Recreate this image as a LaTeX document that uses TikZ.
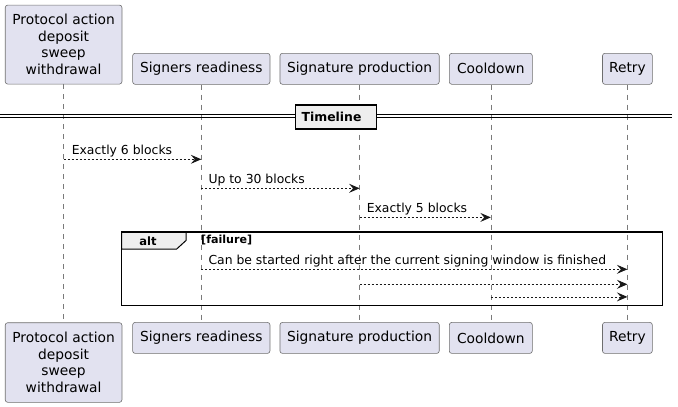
\documentclass[tikz,border=0pt]{standalone}
\usepackage{fontspec}
\setmainfont{DejaVu Sans}
\usetikzlibrary{arrows.meta}
\definecolor{partfill}{HTML}{E2E2F0}
\definecolor{ink}{HTML}{181818}
\definecolor{grpfill}{HTML}{EEEEEE}
\definecolor{lifegray}{HTML}{7A7A7A}
\definecolor{partborder}{HTML}{6E6E6E}
\begin{document}
\begin{tikzpicture}[x=1pt,y=-1pt,
  part/.style={draw=partborder, line width=0.6pt, fill=partfill, rounded corners=2.5pt,
    inner sep=0pt, align=center, font=\fontsize{13.8}{16.5}\selectfont},
  small/.style={part, minimum height=31pt},
  life/.style={draw=lifegray, line width=0.6pt, dash pattern=on 5pt off 5pt},
  msg/.style={draw=ink, line width=0.8pt, dash pattern=on 2pt off 2pt,
    -{Stealth[length=10.5pt,width=9pt,inset=4pt]}},
  mlabel/.style={anchor=base west, inner sep=0pt, font=\fontsize{12.4}{14}\selectfont},
  grptitle/.style={inner sep=0pt, font=\bfseries\fontsize{11.5}{13}\selectfont},
]
\useasboundingbox (0,0) rectangle (678,407);

% participants (top)
\node[part, minimum width=116.7pt, minimum height=79pt] (pA) at (63.6,44.6) {Protocol action\\deposit\\sweep\\withdrawal};
\node[small, minimum width=137.3pt] (pB) at (201.3,68.8) {Signers readiness};
\node[small, minimum width=159.3pt] (pC) at (359.6,68.8) {Signature production};
\node[small, minimum width=83pt] (pD) at (490.8,68.8) {Cooldown};
\node[small, minimum width=49.8pt] (pE) at (627.4,68.8) {Retry};

% participants (bottom)
\node[part, minimum width=116.7pt, minimum height=79.6pt] (qA) at (63.6,362.5) {Protocol action\\deposit\\sweep\\withdrawal};
\node[small, minimum width=137.3pt] (qB) at (201.3,337.9) {Signers readiness};
\node[small, minimum width=159.3pt] (qC) at (359.6,337.9) {Signature production};
\node[small, minimum width=83pt] (qD) at (490.8,337.9) {Cooldown};
\node[small, minimum width=49.8pt] (qE) at (627.4,337.9) {Retry};

% lifelines
\foreach \t/\b in {pA/qA,pB/qB,pC/qC,pD/qD,pE/qE}
  \draw[life] (\t.south) -- (\b.north);

% divider
\draw[line width=1pt] (0,114.6) -- (672.3,114.6);
\draw[line width=1pt] (0,117.8) -- (672.3,117.8);
\node[draw=black, line width=1.5pt, fill=grpfill, text width=69pt, align=left,
  inner xsep=6pt, inner ysep=0pt, minimum height=24pt,
  font=\bfseries\fontsize{12.4}{14}\selectfont] (tl) at (336.2,117) {Timeline};

% messages
\coordinate (m1a) at (pA.south |- 0,159.3);
\coordinate (m1b) at (pB.south |- 0,159.3);
\coordinate (m2a) at (pB.south |- 0,188.3);
\coordinate (m2b) at (pC.south |- 0,188.3);
\coordinate (m3a) at (pC.south |- 0,217.4);
\coordinate (m3b) at (pD.south |- 0,217.4);
\draw[msg] (m1a) -- (m1b);
\draw[msg] (m2a) -- (m2b);
\draw[msg] (m3a) -- (m3b);
\node[mlabel] (l1) at ([xshift=8pt,yshift=5pt]m1a) {Exactly 6 blocks};
\node[mlabel] (l2) at ([xshift=7pt,yshift=5pt]m2a) {Up to 30 blocks};
\node[mlabel] (l3) at ([xshift=7pt,yshift=5pt]m3a) {Exactly 5 blocks};

% alt group
\draw[line width=1pt, fill=grpfill] (121.7,232) -- (186,232) -- (186,240.5) -- (176.7,249) -- (121.7,249) -- cycle;
\draw[line width=1.5pt] (121.7,232) rectangle (662.3,305.3);
\node[grptitle, anchor=base] (alt) at (148,245.6) {alt};
\node[grptitle, anchor=base west, font=\bfseries\fontsize{11.1}{13}\selectfont] (cond) at (201,243.3) {[failure]};

\coordinate (m4a) at (pB.south |- 0,269.3);
\coordinate (m4b) at (pE.south |- 0,269.3);
\coordinate (m5a) at (pC.south |- 0,284.3);
\coordinate (m5b) at (pE.south |- 0,284.3);
\coordinate (m6a) at (pD.south |- 0,296.9);
\coordinate (m6b) at (pE.south |- 0,296.9);
\draw[msg] (m4a) -- (m4b);
\draw[msg] (m5a) -- (m5b);
\draw[msg] (m6a) -- (m6b);
\node[mlabel] (l4) at ([xshift=7pt,yshift=5pt]m4a) {Can be started right after the current signing window is finished};
\end{tikzpicture}
\end{document}
